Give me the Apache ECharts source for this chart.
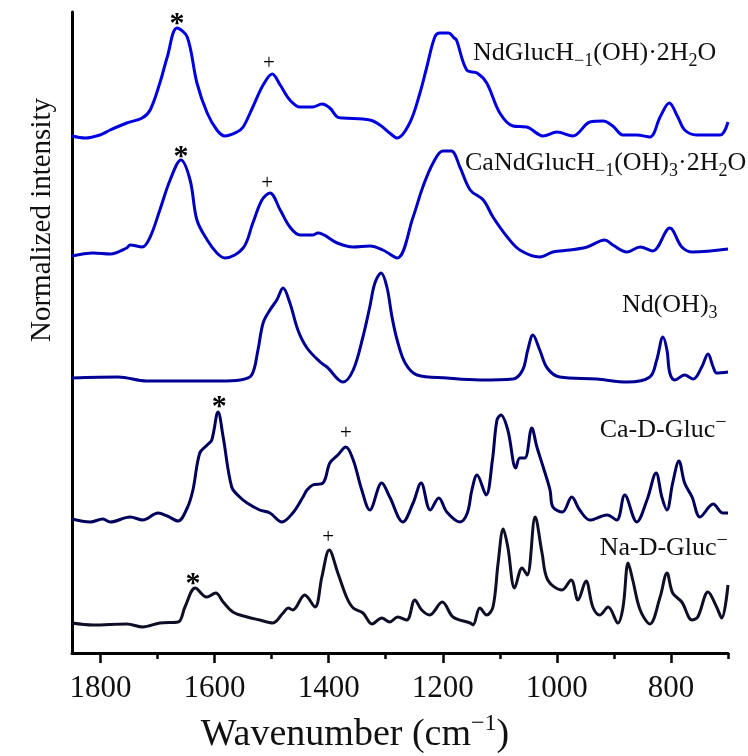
<!DOCTYPE html>
<html><head><meta charset="utf-8">
<script src="https://cdn.jsdelivr.net/npm/echarts@6/dist/echarts.min.js"></script>
<style>html,body{margin:0;padding:0;background:#fff}#c{width:748px;height:756px}</style>
</head><body><div id="c"></div>
<script>
// Wavenumber (cm-1), stacked normalized intensity (arbitrary units)
const ndGlucH = [[1850,517],[1827,515],[1801,518],[1783,523],[1754,530],[1727,535],[1713,543],[1696,570],[1683,596],[1666,625],[1648,616],[1631,570],[1613,540],[1596,523],[1582,517],[1561,521],[1550,526],[1533,546],[1515,568],[1499,579],[1485,568],[1468,553],[1450,546],[1428,546],[1412,549],[1398,545],[1385,536],[1375,535],[1328,533],[1310,528],[1293,520],[1280,515],[1258,530],[1240,560],[1228,586],[1214,616],[1205,620],[1190,620],[1180,615],[1176,613],[1158,583],[1140,580],[1123,570],[1100,540],[1077,527],[1053,526],[1024,517],[1000,521],[972,517],[942,531],[919,532],[902,527],[884,518],[860,518],[837,516],[819,536],[803,550],[788,536],[776,523],[755,518],[714,518],[700,531]];
const caNdGlucH = [[1850,397],[1813,400],[1783,399],[1754,405],[1748,408],[1727,406],[1713,416],[1696,443],[1678,473],[1659,493],[1643,473],[1631,433],[1613,413],[1596,400],[1582,395],[1550,405],[1533,430],[1517,453],[1503,460],[1485,443],[1468,426],[1450,418],[1428,418],[1419,420],[1385,410],[1357,406],[1328,407],[1305,403],[1280,395],[1252,436],[1235,466],[1217,490],[1200,502],[1185,502],[1170,486],[1152,463],[1129,453],[1112,436],[1087,416],[1065,403],[1030,396],[1007,401],[977,403],[947,406],[916,413],[902,408],[877,401],[854,406],[832,402],[802,425],[781,406],[762,401],[700,404]];
const ndOH3 = [[1850,275],[1769,276],[1719,272],[1591,272],[1555,273],[1535,278],[1524,303],[1515,330],[1503,343],[1491,353],[1480,365],[1468,350],[1454,323],[1438,305],[1415,291],[1403,286],[1375,271],[1357,283],[1340,316],[1328,346],[1319,370],[1308,380],[1298,366],[1289,336],[1280,313],[1266,290],[1245,278],[1193,275],[1135,273],[1077,274],[1060,283],[1051,303],[1042,318],[1030,303],[1017,285],[995,276],[930,274],[877,271],[837,276],[825,293],[814,316],[807,303],[802,280],[793,273],[776,278],[761,274],[746,286],[735,299],[726,286],[720,280],[700,281]];
const caGluc = [[1850,134],[1818,131],[1796,134],[1783,131],[1748,136],[1726,133],[1699,140],[1683,137],[1664,132],[1648,145],[1638,163],[1626,200],[1613,208],[1605,213],[1594,241],[1585,216],[1570,166],[1556,156],[1543,150],[1521,143],[1503,140],[1482,131],[1463,140],[1445,156],[1438,163],[1428,168],[1410,170],[1398,190],[1384,198],[1370,206],[1357,193],[1342,163],[1328,143],[1307,170],[1293,156],[1270,131],[1252,150],[1238,170],[1222,143],[1207,155],[1193,141],[1170,131],[1157,140],[1149,163],[1140,178],[1124,158],[1113,193],[1105,233],[1098,238],[1086,223],[1072,185],[1065,195],[1056,195],[1044,225],[1035,206],[1024,186],[1012,163],[1007,146],[990,141],[974,156],[960,143],[942,133],[912,138],[895,133],[881,158],[860,131],[842,153],[826,180],[816,156],[807,143],[797,170],[786,192],[776,170],[763,156],[749,136],[726,149],[709,140],[700,140]];
const naGluc = [[1850,30],[1813,28],[1754,29],[1726,26],[1696,30],[1664,31],[1652,46],[1634,65],[1614,56],[1598,60],[1585,51],[1568,41],[1543,36],[1521,33],[1498,30],[1480,40],[1471,45],[1463,43],[1442,58],[1424,46],[1412,76],[1399,103],[1384,80],[1368,55],[1357,45],[1340,40],[1324,29],[1307,35],[1293,31],[1279,36],[1263,33],[1249,53],[1237,43],[1223,38],[1201,51],[1182,36],[1152,30],[1147,28],[1135,45],[1123,38],[1112,46],[1103,90],[1094,124],[1086,106],[1074,65],[1061,85],[1052,78],[1038,136],[1026,100],[1016,73],[991,63],[975,73],[963,53],[949,72],[937,46],[925,38],[910,46],[893,30],[884,46],[875,90],[867,73],[854,43],[837,29],[819,56],[807,80],[797,60],[781,51],[763,33],[753,36],[735,61],[720,46],[711,35],[700,68]];

const majorTicks = [800, 1000, 1200, 1400, 1600, 1800];
const minorTicks = [700, 900, 1100, 1300, 1500, 1700];

const spectraList = [ndGlucH, caNdGlucH, ndOH3, caGluc, naGluc];
const spectraNames = ['NdGlucH-1(OH)·2H2O', 'CaNdGlucH-1(OH)3·2H2O', 'Nd(OH)3', 'Ca-D-Gluc-', 'Na-D-Gluc-'];
const spectraColors = ['#0000e0', '#0000c4', '#000094', '#00005c', '#0e0e26'];

// annotation marks (wavenumber, intensity)
const starMarks = [[1666,629],[1659,496],[1592,246],[1638,69]];
const plusMarks = [[1505,590],[1508,470],[1370,220],[1401,116]];
const nameTags = [
  {at:[1147,600], text:'{m|NdGlucH}{s|−1}{m|(OH)·2H}{s|2}{m|O}'},
  {at:[1161,490], text:'{m|CaNdGlucH}{s|−1}{m|(OH)}{s|3}{m|·2H}{s|2}{m|O}'},
  {at:[886,348], text:'{m|Nd(OH)}{s|3}'},
  {at:[925,223], text:'{m|Ca-D-Gluc}{p|−}'},
  {at:[925,105], text:'{m|Na-D-Gluc}{p|−}'}
];

const FONT = '"Liberation Serif", "Times New Roman", serif';
const TXT = '#111';
const richStyles = {
  m: {fontSize: 26, fontFamily: FONT, color: TXT, lineHeight: 34},
  s: {fontSize: 18, fontFamily: FONT, color: TXT, lineHeight: 18, verticalAlign: 'bottom'},
  p: {fontSize: 20, fontFamily: FONT, color: TXT, lineHeight: 18, verticalAlign: 'top'}
};

const chart = echarts.init(document.getElementById('c'), null, {renderer: 'canvas'});

const xCommon = {type: 'value', min: 700, max: 1850, inverse: true, position: 'bottom', gridIndex: 0, splitLine: {show: false}};
const series = spectraList.map((d, i) => ({
  name: spectraNames[i], type: 'line', data: d, xAxisIndex: 0, yAxisIndex: 0,
  showSymbol: false, symbol: 'none', smooth: 0.35,
  lineStyle: {color: spectraColors[i], width: 3}, z: 3, silent: true
}));
const markBase = {type: 'scatter', symbolSize: 0, silent: true, z: 5, itemStyle: {opacity: 1}};
series.push(Object.assign({}, markBase, {
  data: starMarks,
  label: {show: true, position: 'inside', formatter: '*', fontSize: 30, fontWeight: 'bold', fontFamily: FONT, color: '#000', opacity: 1}
}));
series.push(Object.assign({}, markBase, {
  data: plusMarks,
  label: {show: true, position: 'inside', formatter: '+', fontSize: 21, fontFamily: FONT, color: '#000', opacity: 1}
}));
series.push(Object.assign({}, markBase, {
  data: nameTags.map(t => ({value: t.at, label: {formatter: t.text}})),
  label: {show: true, position: 'right', distance: 0, rich: richStyles, opacity: 1}
}));

chart.setOption({
  animation: false,
  backgroundColor: '#fff',
  grid: {left: 72, right: 20, top: 12, bottom: 103, containLabel: false, outerBoundsMode: 'none'},
  xAxis: [
    Object.assign({}, xCommon, {
      axisLine: {show: true, onZero: false, lineStyle: {color: '#000', width: 3}},
      axisTick: {show: true, customValues: majorTicks, length: 10, lineStyle: {color: '#000', width: 2.5}},
      axisLabel: {show: true, customValues: majorTicks, margin: 20, fontSize: 31, fontFamily: FONT, color: TXT,
                  formatter: v => String(v)},
      minorTick: {show: false}
    }),
    Object.assign({}, xCommon, {
      axisLine: {show: false, onZero: false},
      axisTick: {show: true, customValues: minorTicks, length: 6, lineStyle: {color: '#000', width: 2.5}},
      axisLabel: {show: false}
    })
  ],
  yAxis: {
    type: 'value', min: 0, max: 641,
    axisLine: {show: true, onZero: false, lineStyle: {color: '#000', width: 3}},
    axisTick: {show: false}, axisLabel: {show: false}, splitLine: {show: false}
  },
  graphic: [
    {type: 'text', x: 42, y: 220, rotation: Math.PI / 2, silent: true,
     style: {text: 'Normalized intensity', font: '29px ' + FONT, fill: TXT, align: 'center', verticalAlign: 'middle'}},
    {type: 'text', x: 355, y: 735, silent: true,
     style: {text: '{a|Wavenumber (cm}{b|−1}{a|)}', align: 'center', verticalAlign: 'middle',
       rich: {a: {fontSize: 38, fontFamily: FONT, fill: TXT, lineHeight: 46},
              b: {fontSize: 24, fontFamily: FONT, fill: TXT, lineHeight: 24, verticalAlign: 'top'}}}}
  ],
  series: series
});
</script>
</body></html>
